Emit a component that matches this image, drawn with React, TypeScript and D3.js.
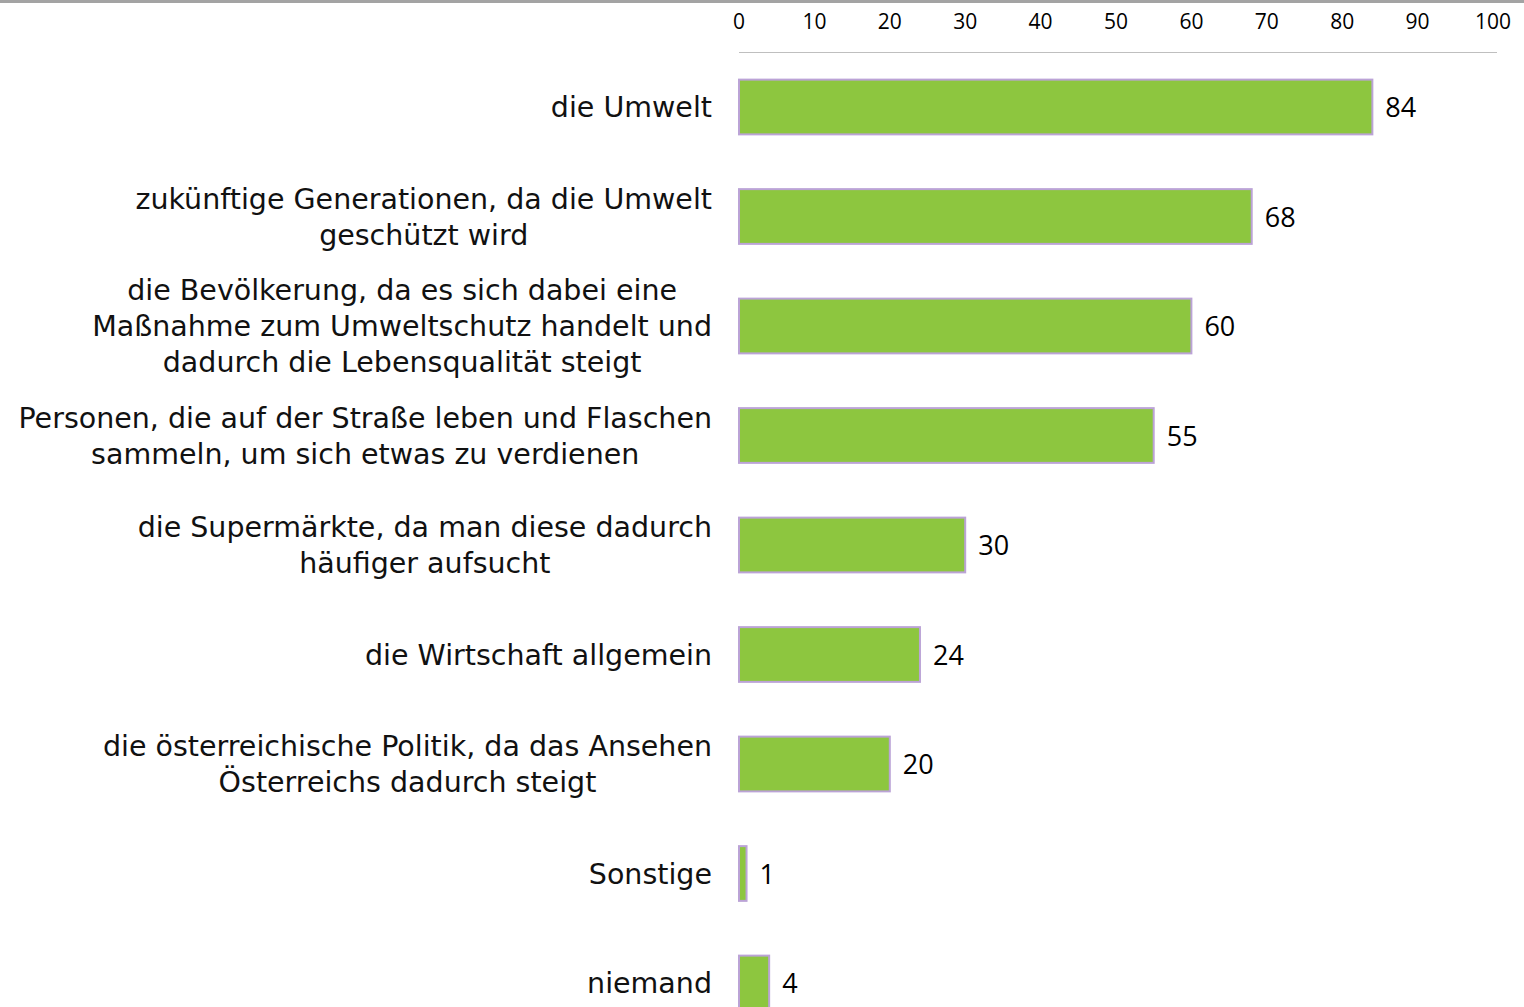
import React, { useEffect, useRef } from "react";
import * as d3 from "d3";

const categories = [
    ["die Umwelt"],
    ["zukünftige Generationen, da die Umwelt", "geschützt wird"],
    ["die Bevölkerung, da es sich dabei eine", "Maßnahme zum Umweltschutz handelt und", "dadurch die Lebensqualität steigt"],
    ["Personen, die auf der Straße leben und Flaschen", "sammeln, um sich etwas zu verdienen"],
    ["die Supermärkte, da man diese dadurch", "häufiger aufsucht"],
    ["die Wirtschaft allgemein"],
    ["die österreichische Politik, da das Ansehen", "Österreichs dadurch steigt"],
    ["Sonstige"],
    ["niemand"],
];
const values = [84, 68, 60, 55, 30, 24, 20, 1, 4];
const ticks = [0, 10, 20, 30, 40, 50, 60, 70, 80, 90, 100];

const FONT = "'Open Sans', sans-serif";
const LABEL_FONT = "'DejaVu Sans', sans-serif";

const App = () => {
    const svgRef = useRef<SVGSVGElement>(null);

    useEffect(() => {
        const width = 1524;
        const height = 1007;
        const svg = d3.select(svgRef.current).attr("width", width).attr("height", height);
        svg.selectAll("*").remove();

        const x = d3.scaleLinear().domain([0, 100]).range([739, 1493]);
        const keys = categories.map((c) => c.join(" "));
        const y = d3
            .scaleBand()
            .domain(keys)
            .range([52.25, 1037.75])
            .paddingInner(0.5)
            .paddingOuter(0.25);

        // grey strip along the top
        svg.append("rect").attr("x", 0).attr("y", 0).attr("width", width).attr("height", 3).attr("fill", "#a3a3a3");

        // axis on top
        svg.append("line")
            .attr("x1", 739).attr("x2", 1497)
            .attr("y1", 52.5).attr("y2", 52.5)
            .attr("stroke", "#bfbfbf").attr("stroke-width", 1);

        svg.append("g")
            .selectAll("text")
            .data(ticks)
            .join("text")
            .attr("x", (d) => x(d))
            .attr("y", 29)
            .attr("text-anchor", "middle")
            .style("font-family", FONT)
            .style("font-size", "21px")
            .attr("fill", "#000")
            .text((d) => d);

        const rows = svg
            .append("g")
            .selectAll("g")
            .data(values)
            .join("g");

        rows.append("rect")
            .attr("x", x(0))
            .attr("y", (d, i) => y(keys[i])!)
            .attr("width", (d) => x(d) - x(0))
            .attr("height", y.bandwidth())
            .attr("fill", "#8dc63f")
            .attr("stroke", "#bba3d6")
            .attr("stroke-width", 2);

        rows.append("text")
            .attr("x", (d) => x(d) + 13)
            .attr("y", (d, i) => y(keys[i])! + y.bandwidth() / 2 + 10)
            .style("font-family", FONT)
            .style("font-size", "27px")
            .attr("fill", "#000")
            .text((d) => d);

        // category labels: block right-aligned, lines centred within the block
        const lineH = 36;
        categories.forEach((lines, i) => {
            const cy = y(keys[i])! + y.bandwidth() / 2;
            const g = svg.append("g");
            const texts = lines.map((line, j) =>
                g.append("text")
                    .attr("y", cy + (j - (lines.length - 1) / 2) * lineH + 10)
                    .style("font-family", LABEL_FONT)
                    .style("font-size", "28.5px")
                    .attr("fill", "#111")
                    .attr("text-anchor", "middle")
                    .text(line)
            );
            const widths = texts.map((t) => (t.node() as SVGTextElement).getComputedTextLength());
            const w = d3.max(widths) ?? 0;
            texts.forEach((t) => t.attr("x", 712 - w / 2));
        });
    }, []);

    return <svg ref={svgRef} style={{ position: "absolute", left: 0, top: 0 }}></svg>;
};

export default App;
